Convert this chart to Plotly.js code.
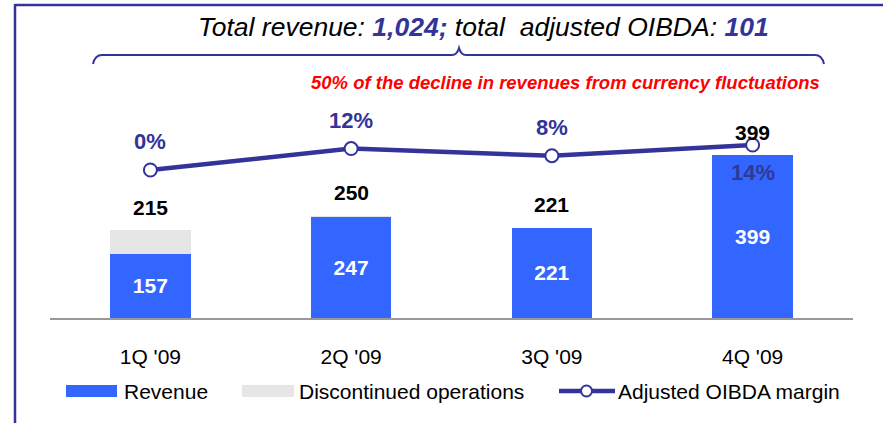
<!DOCTYPE html>
<html>
<head>
<meta charset="utf-8">
<script src="https://cdn.plot.ly/plotly-3.0.1.min.js"></script>
<style>html,body{margin:0;padding:0;background:#fff;}#chart{width:883px;height:423px;}</style>
</head>
<body>
<div id="chart"></div>
<script>
// ---- data ----
const quarters = ["1Q '09", "2Q '09", "3Q '09", "4Q '09"];
const revenue = [157, 247, 221, 399];
const discontinued = [58, 3, 0, 0];
const totals = [215, 250, 221, 399];
const oibdaMargin = [0, 12, 8, 14];
const marginLabels = ["0%", "12%", "8%", "14%"];
const totalRevenueText = "1,024;";
const totalOibdaText = "101";
const noteText = "50% of the decline in revenues from currency fluctuations";

// ---- layout helpers (pixel -> paper) ----
const W = 883, H = 423, ML = 50, MR = 30, MT = 100, MB = 105;
const PW = W - ML - MR, PH = H - MT - MB;
const px = x => (x - ML) / PW;
const py = y => (H - MB - y) / PH;

const NAVY = '#333399', BLUE = '#3366FF', GREY = '#E6E6E6';
const FONT = 'Liberation Sans, Arial, sans-serif';

const traces = [
  {
    type: 'bar', x: quarters, y: revenue, name: 'Revenue', width: 0.4,
    marker: {color: BLUE}, text: revenue.map(String), textposition: 'inside',
    insidetextanchor: 'middle', textfont: {color: '#fff', size: 21, family: FONT, weight: 'bold'},
    hoverinfo: 'skip', showlegend: false
  },
  {
    type: 'bar', x: quarters, y: discontinued, name: 'Discontinued operations', width: 0.4,
    marker: {color: GREY}, textposition: 'none', hoverinfo: 'skip', showlegend: false
  },
  {
    type: 'scatter', mode: 'lines+markers', x: quarters, y: oibdaMargin, yaxis: 'y2',
    name: 'Adjusted OIBDA margin', line: {color: NAVY, width: 4.5},
    marker: {size: 13, color: '#fff', line: {color: NAVY, width: 2}},
    hoverinfo: 'skip', showlegend: false
  }
];

const annotations = [];
// totals above bars
quarters.forEach((q, i) => annotations.push({
  x: q, y: totals[i], xref: 'x', yref: 'y', text: '<b>' + totals[i] + '</b>',
  showarrow: false, yanchor: 'middle', yshift: 23,
  font: {size: 21, color: '#000', family: FONT}
}));
// margin labels
quarters.forEach((q, i) => annotations.push({
  x: q, y: oibdaMargin[i], xref: 'x', yref: 'y2', text: '<b>' + marginLabels[i] + '</b>',
  showarrow: false, yanchor: 'middle', yshift: i === 3 ? -28 : 28,
  font: {size: 22, color: i === 3 ? '#2E3A94' : NAVY, family: FONT}
}));
// title
annotations.push({
  xref: 'paper', yref: 'paper', x: px(483), y: py(27), xanchor: 'center', yanchor: 'middle',
  showarrow: false,
  text: '<i>Total revenue: <b><span style="color:' + NAVY + '">' + totalRevenueText +
        '</span></b> total  adjusted OIBDA: <b><span style="color:' + NAVY + '">' + totalOibdaText + '</span></b></i>',
  font: {size: 26.5, color: '#000', family: FONT}
});
// red note
annotations.push({
  xref: 'paper', yref: 'paper', x: px(822), y: py(82), xanchor: 'right', yanchor: 'middle',
  showarrow: false, text: '<b><i>' + noteText + '</i></b>',
  font: {size: 18.5, color: '#FF0000', family: FONT}
});
// legend texts
const legendItems = [
  {label: 'Revenue', tx: 122},
  {label: 'Discontinued operations', tx: 297},
  {label: 'Adjusted OIBDA margin', tx: 616}
];
legendItems.forEach(it => annotations.push({
  xref: 'paper', yref: 'paper', x: px(it.tx), y: py(391), xanchor: 'left', yanchor: 'middle',
  showarrow: false, text: it.label, font: {size: 21, color: '#000', family: FONT}
}));

function pt(x, y) { return px(x).toFixed(5) + ',' + py(y).toFixed(5); }
const bracePath = 'M ' + pt(93, 64) + ' Q ' + pt(95, 55) + ' ' + pt(102, 55) +
  ' L ' + pt(452, 55) + ' Q ' + pt(457, 55) + ' ' + pt(459, 48) +
  ' Q ' + pt(461, 55) + ' ' + pt(466, 55) + ' L ' + pt(815, 55) +
  ' Q ' + pt(822, 55) + ' ' + pt(824, 64);

const shapes = [
  // frame
  {type: 'line', xref: 'paper', yref: 'paper', x0: px(15), x1: px(884), y0: py(5), y1: py(5), line: {color: NAVY, width: 2.5}},
  {type: 'line', xref: 'paper', yref: 'paper', x0: px(15), x1: px(15), y0: py(4), y1: py(424), line: {color: NAVY, width: 2.5}},
  // brace
  {type: 'path', xref: 'paper', yref: 'paper', path: bracePath, line: {color: NAVY, width: 2}},
  // legend swatches
  {type: 'rect', xref: 'paper', yref: 'paper', x0: px(66), x1: px(117), y0: py(385), y1: py(397), fillcolor: BLUE, line: {width: 0}},
  {type: 'rect', xref: 'paper', yref: 'paper', x0: px(242), x1: px(294), y0: py(385), y1: py(397), fillcolor: GREY, line: {width: 0}},
  {type: 'line', xref: 'paper', yref: 'paper', x0: px(559), x1: px(615), y0: py(391), y1: py(391), line: {color: NAVY, width: 4.5}},
  {type: 'circle', xref: 'paper', yref: 'paper', x0: px(581), x1: px(592), y0: py(385.5), y1: py(396.5), fillcolor: '#fff', line: {color: NAVY, width: 2}}
];

const layout = {
  width: W, height: H, margin: {l: ML, r: MR, t: MT, b: MB},
  paper_bgcolor: '#fff', plot_bgcolor: '#fff', barmode: 'stack', showlegend: false,
  font: {family: FONT},
  xaxis: {
    type: 'category', range: [-0.5, 3.5], showline: true, linecolor: '#999999', linewidth: 2,
    ticks: '', showgrid: false, zeroline: false, tickfont: {size: 21, color: '#000', family: FONT},
    ticklabelstandoff: 19, fixedrange: true
  },
  yaxis: {range: [0, 533.7], visible: false, showgrid: false, zeroline: false, fixedrange: true},
  yaxis2: {range: [-82.9, 39.2], overlaying: 'y', visible: false, showgrid: false, zeroline: false, fixedrange: true},
  annotations: annotations, shapes: shapes
};

Plotly.newPlot('chart', traces, layout, {displayModeBar: false, staticPlot: true});
</script>
</body>
</html>
